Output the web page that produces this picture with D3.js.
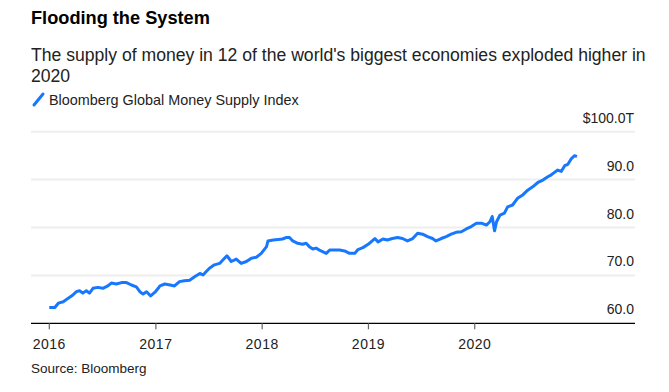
<!DOCTYPE html>
<html>
<head>
<meta charset="utf-8">
<script src="https://cdn.jsdelivr.net/npm/d3@7"></script>
<style>
  body { margin: 0; background: #fff; }
  svg { display: block; font-family: "Liberation Sans", Arial, sans-serif; }
</style>
</head>
<body>
<svg width="669" height="392"></svg>
<script>
// data (trillions of USD)
const dates = [
  "2016-01-01","2016-01-20","2016-02-01","2016-02-18","2016-03-05","2016-03-22","2016-04-03","2016-04-14",
  "2016-04-25","2016-05-07","2016-05-18","2016-05-30","2016-06-16","2016-07-03","2016-07-20","2016-08-01",
  "2016-08-18","2016-09-05","2016-09-22","2016-10-09","2016-10-26","2016-11-07","2016-11-18","2016-11-30",
  "2016-12-14","2016-12-29","2017-01-09","2017-01-15","2017-02-01","2017-02-19","2017-03-06","2017-03-23",
  "2017-04-09","2017-04-27","2017-05-14","2017-06-01","2017-06-12","2017-06-23","2017-07-04","2017-07-21",
  "2017-08-08","2017-08-19","2017-09-02","2017-09-17","2017-10-04","2017-10-21","2017-11-08","2017-11-25",
  "2017-12-12","2017-12-29","2018-01-16","2018-01-21","2018-02-08","2018-02-25","2018-03-12","2018-03-24",
  "2018-04-05","2018-04-16","2018-05-03","2018-05-20","2018-06-01","2018-06-12","2018-06-24","2018-07-05",
  "2018-07-22","2018-08-09","2018-08-21","2018-09-07","2018-09-24","2018-10-11","2018-10-28","2018-11-15",
  "2018-11-26","2018-12-13","2018-12-31","2019-01-23","2019-02-03","2019-02-20","2019-03-07","2019-03-24",
  "2019-04-11","2019-04-28","2019-05-15","2019-06-02","2019-06-19","2019-07-06","2019-07-23","2019-08-09",
  "2019-08-21","2019-09-08","2019-09-25","2019-10-12","2019-10-29","2019-11-16","2019-12-03","2019-12-20",
  "2020-01-07","2020-01-24","2020-02-10","2020-02-22","2020-03-01","2020-03-09","2020-03-16","2020-03-28",
  "2020-04-12","2020-04-23","2020-05-10","2020-05-27","2020-06-14","2020-07-01","2020-07-18","2020-08-05",
  "2020-08-22","2020-09-08","2020-09-20","2020-10-01","2020-10-12","2020-10-24","2020-11-05","2020-11-16",
  "2020-11-28","2020-12-09","2020-12-17"
];
const values = [
  63.3,63.3,64.2,64.5,65.2,65.9,66.6,66.8,
  66.3,66.8,66.3,67.3,67.5,67.3,67.8,68.4,
  68.2,68.5,68.5,68.0,67.6,66.6,66.1,66.6,
  65.7,66.5,67.3,67.8,68.2,68.0,67.8,68.7,
  68.9,69.0,69.7,70.4,70.1,70.8,71.5,72.2,
  72.5,73.2,74.1,72.9,73.4,72.5,72.9,73.6,
  73.8,74.6,76.0,77.2,77.4,77.5,77.6,77.9,
  77.9,77.2,76.7,76.5,76.7,76.0,75.5,75.7,
  75.1,74.6,75.3,75.3,75.3,75.1,74.6,74.6,
  75.4,75.8,76.5,77.7,77.0,77.6,77.4,77.7,
  77.9,77.7,77.2,77.7,78.8,78.6,78.1,77.7,
  77.2,77.7,78.1,78.6,79.0,79.1,79.7,80.2,
  80.9,80.9,80.5,81.2,82.3,79.3,81.2,82.6,
  83.0,84.3,84.7,86.1,86.8,87.8,88.5,89.4,
  89.9,90.6,91.0,91.5,92.0,91.7,92.9,93.2,
  94.4,95.0,94.8
];
const yTicks = [60, 70, 80, 90, 100];
const xTickYears = [2016, 2017, 2018, 2019, 2020];

const parse = d3.timeParse("%Y-%m-%d");
const series = dates.map((d, i) => ({date: parse(d), value: values[i]}));

const svg = d3.select("svg");
const blue = "#1877ff";
const left = 31, right = 635;

const x = d3.scaleTime()
  .domain([new Date(2016, 0, 1), new Date(2021, 0, 1)])
  .range([49.3, 581.3]);
const y = d3.scaleLinear().domain([60, 100]).range([323.3, 131.7]);

// titles
svg.append("text").attr("x", left).attr("y", 24)
  .style("font-size", "18.2px").style("font-weight", "bold").attr("fill", "#000")
  .text("Flooding the System");
const sub = svg.append("text").attr("x", left).attr("y", 61)
  .style("font-size", "17.6px").attr("fill", "#222");
sub.append("tspan").attr("x", left).text("The supply of money in 12 of the world's biggest economies exploded higher in");
sub.append("tspan").attr("x", left).attr("dy", 20.5).text("2020");

// legend
svg.append("line").attr("x1", 34).attr("y1", 105).attr("x2", 43).attr("y2", 94)
  .attr("stroke", blue).attr("stroke-width", 3).attr("stroke-linecap", "round");
svg.append("text").attr("x", 49).attr("y", 105)
  .style("font-size", "14.4px").attr("fill", "#222")
  .text("Bloomberg Global Money Supply Index");

// gridlines + y labels
const grid = svg.append("g");
grid.selectAll("line").data(yTicks.filter(d => d > 60)).enter().append("line")
  .attr("x1", left).attr("x2", right)
  .attr("y1", d => y(d)).attr("y2", d => y(d))
  .attr("stroke", "#eeeeee").attr("stroke-width", 2);
grid.selectAll("text").data(yTicks).enter().append("text")
  .attr("x", right - 1).attr("y", d => y(d) - 9)
  .attr("text-anchor", "end")
  .style("font-size", "14px").attr("fill", "#222")
  .text(d => d === 100 ? "$" + d3.format(".1f")(d) + "T" : d3.format(".1f")(d));

// x axis
const xAxis = svg.append("g").attr("transform", `translate(0,${y(60)})`);
xAxis.append("line").attr("x1", left).attr("x2", right)
  .attr("stroke", "#000").attr("stroke-width", 1.2);
const xt = xAxis.selectAll("g.tick").data(xTickYears).enter().append("g")
  .attr("transform", d => `translate(${x(new Date(d, 0, 1))},0)`);
xt.append("line").attr("y1", 0).attr("y2", 6).attr("stroke", "#666").attr("stroke-width", 1.2);
xt.append("text").attr("y", 26).attr("text-anchor", "middle")
  .style("font-size", "14px").style("letter-spacing", "0.5px").attr("fill", "#222").text(d => d);

// series line
svg.append("path").datum(series)
  .attr("fill", "none").attr("stroke", blue).attr("stroke-width", 3)
  .attr("stroke-linejoin", "round")
  .attr("d", d3.line().x(d => x(d.date)).y(d => y(d.value)));

// source
svg.append("text").attr("x", left).attr("y", 373)
  .style("font-size", "13.5px").attr("fill", "#222")
  .text("Source: Bloomberg");
</script>
</body>
</html>
